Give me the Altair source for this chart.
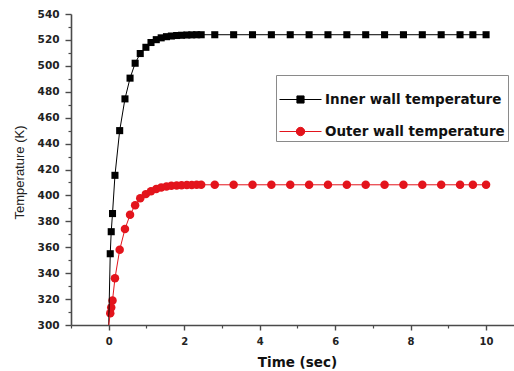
import altair as alt
import pandas as pd

# Sampling times (s) of the transient solution
time_s = [0.0, 0.04, 0.066, 0.10, 0.165, 0.29, 0.43, 0.565, 0.70, 0.835, 0.985,
          1.12, 1.26, 1.39, 1.53, 1.66, 1.80, 1.93, 2.07, 2.20, 2.33, 2.45,
          2.81, 3.31, 3.81, 4.31, 4.81, 5.31, 5.81, 6.31, 6.81, 7.31, 7.81,
          8.31, 8.81, 9.31, 9.65, 10.0]

# Wall temperatures (K)
inner_k = [300.0, 355.0, 372.0, 386.0, 415.5, 450.0, 474.5, 490.5, 502.0, 509.5, 514.3,
           518.0, 520.2, 521.6, 522.5, 523.0, 523.4, 523.6, 523.8, 523.9, 524.0, 524.0,
           524.0, 524.0, 524.0, 524.0, 524.0, 524.0, 524.0, 524.0, 524.0, 524.0, 524.0,
           524.0, 524.0, 524.0, 524.0, 524.0]
outer_k = [300.0, 309.0, 313.5, 319.0, 336.0, 358.0, 374.0, 385.0, 392.5, 397.8, 401.0,
           403.3, 405.0, 406.1, 406.9, 407.4, 407.7, 407.9, 408.0, 408.1, 408.2, 408.2,
           408.2, 408.2, 408.2, 408.2, 408.2, 408.2, 408.2, 408.2, 408.2, 408.2, 408.2,
           408.2, 408.2, 408.2, 408.2, 408.2]

series_names = ["Inner wall temperature", "Outer wall temperature"]
series_colors = ["#000000", "#e3141c"]
marker_shapes = ["square", "circle"]
marker_sizes = [50, 72]
# legend glyphs: a short line segment with the series marker in the middle
legend_glyphs = [
    "M-1,0H1M-0.17,-0.17H0.17V0.17H-0.17Z",
    "M-1,0H1M-0.2,0A0.2,0.2 0 1,0 0.2,0A0.2,0.2 0 1,0 -0.2,0Z",
]

x_major = [0, 2, 4, 6, 8, 10]
x_minor = [-1, 1, 3, 5, 7, 9]
y_major = list(range(300, 541, 20))
y_minor = list(range(310, 540, 20))

rows = []
for t, a, b in zip(time_s, inner_k, outer_k):
    rows.append({"time": t, "temp": a, "series": series_names[0]})
    rows.append({"time": t, "temp": b, "series": series_names[1]})
df = pd.DataFrame(rows)

AXIS_COLOR = "#4a4a4a"
x_scale = alt.Scale(domain=[-1, 10.74], nice=False, zero=False)
y_scale = alt.Scale(domain=[300, 540], nice=False, zero=False)
col_scale = alt.Scale(domain=series_names, range=series_colors)

x_axis_main = alt.Axis(
    values=x_major, orient="bottom", title="Time (sec)", grid=False,
    domainColor=AXIS_COLOR, domainWidth=1.6, tickColor=AXIS_COLOR, tickWidth=1.4,
    tickSize=5, labelPadding=6, labelFont="DejaVu Sans", labelFontWeight="bold",
    labelFontSize=10, labelColor="#222", titleFont="DejaVu Sans",
    titleFontWeight="bold", titleFontSize=13.5, titleColor="#111",
    titleX=226, titleY=37, titleBaseline="middle", titleAlign="center",
)
y_axis_main = alt.Axis(
    values=y_major, orient="left", title="Temperature (K)", grid=False,
    domainColor=AXIS_COLOR, domainWidth=1.6, tickColor=AXIS_COLOR, tickWidth=1.4,
    tickSize=6, labelPadding=6, labelFont="DejaVu Sans", labelFontWeight="bold",
    labelFontSize=10.5, labelColor="#222", titleFont="Liberation Sans",
    titleFontWeight="normal", titleFontSize=13, titleColor="#222",
    titleX=-52, titleY=158, titleBaseline="middle", titleAlign="center", titleAngle=-90,
)
x_axis_minor = alt.Axis(
    values=x_minor, orient="bottom", title=None, labels=False, domain=False,
    grid=False, tickColor=AXIS_COLOR, tickWidth=1.2, tickSize=3,
)
y_axis_minor = alt.Axis(
    values=y_minor, orient="left", title=None, labels=False, domain=False,
    grid=False, tickColor=AXIS_COLOR, tickWidth=1.2, tickSize=3,
)

key_legend = alt.Legend(
    title=None, orient="none", legendX=205, legendY=61,
    symbolSize=1764, symbolStrokeWidth=1, symbolOpacity=1,
    labelFont="DejaVu Sans", labelFontWeight="bold", labelFontSize=13.5,
    labelColor="#111", labelOffset=3, labelLimit=400, padding=3,
    rowPadding=4, strokeColor="#8a8a8a", fillColor="white",
)

base = alt.Chart(df)


def line_layer(i, axes):
    """Connecting line of one series, starting from the initial state at t = 0."""
    x_axis, y_axis = axes
    return base.transform_filter(
        f"datum.series == '{series_names[i]}'"
    ).mark_line(strokeWidth=1, color=series_colors[i], clip=True).encode(
        x=alt.X("time:Q", scale=x_scale, axis=x_axis),
        y=alt.Y("temp:Q", scale=y_scale, axis=y_axis),
    )


def marker_layer(i, axes):
    """Markers of one series; the sample at t = 0 sits on the axis and carries none."""
    x_axis, y_axis = axes
    return base.transform_filter(
        f"datum.time > 0 && datum.series == '{series_names[i]}'"
    ).mark_point(
        filled=True, opacity=1, shape=marker_shapes[i], size=marker_sizes[i],
        color=series_colors[i], clip=True,
    ).encode(
        x=alt.X("time:Q", scale=x_scale, axis=x_axis),
        y=alt.Y("temp:Q", scale=y_scale, axis=y_axis),
    )


inner_pts = marker_layer(0, (x_axis_minor, y_axis_minor))
outer_pts = marker_layer(1, (None, None))
inner_line = line_layer(0, (x_axis_main, y_axis_main))
outer_line = line_layer(1, (None, None))

# zero-size points that only carry the key (line + marker glyph per series)
key = base.transform_filter("datum.time > 0").mark_point(
    filled=True, size=0, strokeWidth=0
).encode(
    x=alt.X("time:Q", scale=x_scale, axis=None),
    y=alt.Y("temp:Q", scale=y_scale, axis=None),
    fill=alt.Fill("series:N", scale=col_scale, legend=key_legend),
    stroke=alt.Stroke("series:N", scale=col_scale, legend=key_legend),
    shape=alt.Shape("series:N", scale=alt.Scale(domain=series_names, range=legend_glyphs),
                    legend=key_legend),
)

chart = (
    alt.layer(inner_pts, outer_pts, inner_line, outer_line, key)
    .resolve_axis(x="independent", y="independent")
    .properties(
        width=443, height=311,
        autosize=alt.AutoSizeParams(type="none"),
        padding={"left": 71, "top": 14, "right": 0, "bottom": 46},
        background="white",
    )
    .configure_view(stroke=None)
)

chart.save("out.html", embed_options={"renderer": "svg", "actions": False})
